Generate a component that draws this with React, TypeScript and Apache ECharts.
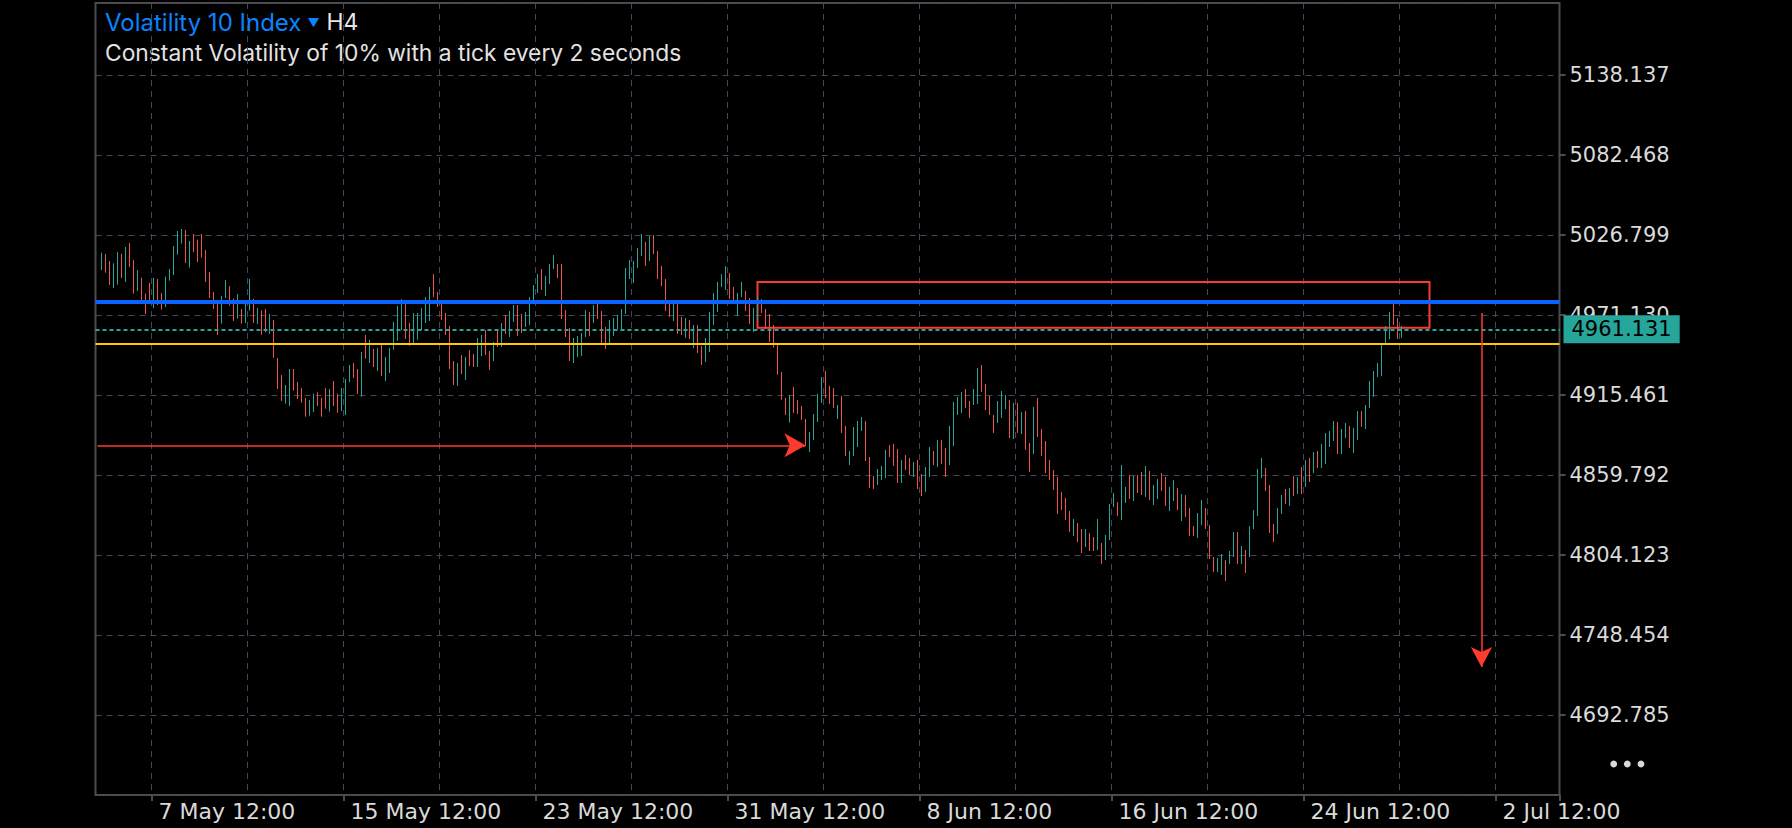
import React, { useEffect, useRef } from 'react';
import * as echarts from 'echarts';

const FONT = 'Inter, "Noto Sans", Roboto, sans-serif';
const AXIS_FONT = '"DejaVu Sans", Verdana, sans-serif';

// ---- axes ----
const yTicks = [4692.785, 4748.454, 4804.123, 4859.792, 4915.461, 4971.13, 5026.799, 5082.468, 5138.137];
const yStep = 55.669;
const yMax = 5188.24;
const xTickLabels = ['7 May 12:00', '15 May 12:00', '23 May 12:00', '31 May 12:00', '8 Jun 12:00', '16 Jun 12:00', '24 Jun 12:00', '2 Jul 12:00'];
const firstLabelSlot = 14;
const labelEvery = 48;
const gridEvery = 24;
const slotCount = 366;
const slotStartUTC = Date.UTC(2024, 4, 5, 4, 0); // H4 slot 0
const firstBarSlot = 1;

// ---- H4 bars (high / low / direction u=up d=down) ----
const highs = [
  5014.51, 5013.58, 5008.71, 5007.09, 5014.97, 5013.81, 5018.45, 5021.24, 5009.41, 5002.45,
  4997.11, 4985.98, 4993.40, 4996.88, 4996.18, 4986.44, 4997.81, 5003.14, 5019.15, 5029.59,
  5030.98, 5030.28, 5022.63, 5027.50, 5023.55, 5027.50, 5016.36, 5001.06, 4987.14, 4979.25,
  4984.36, 4995.49, 4991.31, 4982.50, 4985.75, 4975.31, 4979.48, 4996.18, 4982.27, 4976.01,
  4974.38, 4975.31, 4971.83, 4967.65, 4941.21, 4929.38, 4922.42, 4933.56, 4933.56, 4924.51,
  4920.34, 4913.38, 4911.99, 4916.39, 4917.32, 4913.38, 4920.34, 4919.64, 4925.21, 4916.39,
  4920.34, 4926.60, 4936.34, 4937.73, 4933.56, 4945.39, 4957.22, 4953.74, 4947.48, 4948.17,
  4950.26, 4941.91, 4948.17, 4966.26, 4977.40, 4982.27, 4980.88, 4965.57, 4972.53, 4972.53,
  4976.01, 4983.66, 4990.62, 4999.66, 4987.14, 4980.88, 4972.53, 4963.48, 4939.13, 4937.73,
  4943.30, 4941.91, 4946.78, 4944.00, 4955.13, 4957.22, 4960.70, 4946.08, 4952.35, 4961.39,
  4965.57, 4971.13, 4973.92, 4978.09, 4978.09, 4971.83, 4973.22, 4983.66, 4992.01, 4999.66,
  5003.14, 4998.27, 5006.62, 5012.89, 5006.62, 5006.62, 4974.61, 4962.09, 4955.13, 4956.52,
  4958.61, 4974.61, 4973.22, 4978.09, 4980.88, 4973.92, 4962.78, 4967.65, 4969.05, 4971.13,
  4975.31, 5003.84, 5009.41, 5008.71, 5017.76, 5027.50, 5021.93, 5026.11, 5026.80, 5015.67,
  5005.23, 4996.18, 4980.88, 4978.79, 4978.79, 4969.74, 4969.05, 4967.65, 4964.18, 4964.18,
  4949.56, 4955.13, 4973.22, 4986.44, 4994.10, 4999.66, 5005.23, 5000.36, 4990.62, 4986.44,
  4994.10, 4987.83, 4982.96, 4976.01, 4984.36, 4982.27, 4975.31, 4971.83, 4964.18, 4950.26,
  4931.47, 4913.38, 4915.47, 4921.04, 4911.99, 4907.81, 4898.77, 4889.72, 4902.25, 4916.16,
  4927.99, 4932.17, 4921.73, 4920.34, 4908.51, 4914.77, 4893.90, 4876.50, 4893.20, 4897.38,
  4900.16, 4897.38, 4872.33, 4859.10, 4863.98, 4866.06, 4877.20, 4880.68, 4881.37, 4877.89,
  4870.24, 4873.72, 4871.63, 4868.85, 4870.24, 4860.50, 4865.37, 4879.28, 4876.50, 4884.15,
  4884.15, 4878.59, 4893.90, 4910.60, 4914.08, 4917.56, 4919.64, 4911.29, 4919.64, 4934.26,
  4936.34, 4923.12, 4914.77, 4901.55, 4911.29, 4918.25, 4915.47, 4911.99, 4909.90, 4909.90,
  4903.64, 4904.33, 4882.07, 4907.12, 4913.38, 4891.81, 4883.46, 4870.24, 4863.28, 4858.41,
  4847.97, 4843.79, 4834.75, 4829.18, 4826.40, 4822.22, 4822.22, 4819.44, 4816.65, 4829.18,
  4812.48, 4818.05, 4839.62, 4847.27, 4841.01, 4866.75, 4851.45, 4859.80, 4859.10, 4859.80,
  4861.88, 4866.06, 4862.58, 4852.84, 4857.01, 4861.19, 4858.40, 4851.45, 4856.32, 4850.75,
  4846.58, 4845.88, 4836.83, 4824.31, 4833.35, 4842.40, 4836.83, 4825.00, 4802.74, 4802.04,
  4804.82, 4800.65, 4806.91, 4820.13, 4820.13, 4810.39, 4807.61, 4824.31, 4835.44, 4863.97,
  4871.63, 4864.67, 4852.84, 4825.70, 4836.83, 4845.88, 4850.05, 4850.75, 4859.10, 4858.40,
  4865.36, 4870.23, 4871.63, 4875.80, 4876.50, 4881.37, 4889.02, 4890.41, 4897.37, 4896.68,
  4891.81, 4895.98, 4893.89, 4892.50, 4904.33, 4904.33, 4908.51, 4925.21, 4932.16, 4937.73,
  4951.65, 4963.48, 4973.22, 4980.87, 4969.04, 4963.48,
];
const lows = [
  5002.45, 5000.59, 4992.01, 4989.92, 4992.24, 4996.88, 4994.10, 5004.53, 4985.98, 4987.83,
  4979.48, 4971.83, 4979.02, 4976.01, 4978.09, 4974.85, 4976.70, 4995.03, 4998.97, 5013.12,
  5020.77, 5007.32, 5004.07, 5014.97, 5008.01, 5011.03, 4994.10, 4982.96, 4975.31, 4957.22,
  4965.10, 4982.96, 4977.63, 4966.96, 4968.58, 4965.10, 4965.57, 4974.15, 4965.57, 4964.87,
  4957.45, 4959.07, 4957.91, 4941.44, 4919.64, 4911.29, 4909.44, 4907.81, 4918.48, 4912.68,
  4910.13, 4900.39, 4901.09, 4903.64, 4907.81, 4900.39, 4905.96, 4903.87, 4907.81, 4903.17,
  4904.33, 4901.55, 4924.51, 4927.30, 4916.16, 4914.31, 4940.75, 4937.73, 4934.95, 4932.17,
  4928.69, 4925.21, 4930.77, 4947.01, 4953.27, 4960.70, 4954.43, 4949.80, 4951.19, 4953.97,
  4960.70, 4965.57, 4966.96, 4983.66, 4976.70, 4967.65, 4957.22, 4933.56, 4922.42, 4921.73,
  4930.08, 4925.90, 4935.65, 4934.95, 4934.95, 4942.60, 4943.30, 4932.86, 4939.13, 4948.87,
  4948.87, 4957.91, 4955.83, 4966.26, 4956.52, 4958.61, 4962.78, 4964.18, 4980.18, 4986.44,
  4988.53, 4984.36, 4992.71, 5003.14, 4996.88, 4968.35, 4955.83, 4939.13, 4937.73, 4941.91,
  4942.60, 4955.83, 4956.52, 4965.57, 4968.35, 4950.95, 4947.48, 4950.95, 4956.52, 4961.39,
  4961.39, 4971.83, 4996.18, 4993.40, 5003.84, 5012.19, 5005.23, 5008.71, 5013.58, 4996.18,
  4991.31, 4973.92, 4969.74, 4966.96, 4957.91, 4957.22, 4955.13, 4954.43, 4948.17, 4944.69,
  4936.34, 4938.43, 4945.39, 4964.18, 4973.22, 4990.62, 4988.53, 4982.27, 4978.79, 4970.44,
  4983.66, 4973.92, 4964.87, 4959.30, 4967.65, 4972.53, 4961.39, 4952.35, 4948.41, 4929.62,
  4912.22, 4901.55, 4896.22, 4902.94, 4902.25, 4898.07, 4879.98, 4875.80, 4884.15, 4896.68,
  4909.90, 4913.38, 4909.21, 4906.42, 4898.77, 4889.03, 4873.02, 4866.76, 4873.02, 4879.28,
  4890.42, 4869.54, 4850.75, 4850.06, 4852.84, 4856.32, 4857.71, 4872.33, 4866.06, 4854.23,
  4854.23, 4863.28, 4859.80, 4858.41, 4850.06, 4845.19, 4847.97, 4858.41, 4866.76, 4865.37,
  4867.45, 4858.41, 4866.76, 4879.98, 4901.55, 4902.94, 4906.42, 4899.46, 4908.51, 4909.21,
  4917.56, 4905.03, 4901.55, 4889.03, 4895.98, 4899.46, 4905.73, 4885.55, 4884.85, 4889.03,
  4888.33, 4877.20, 4861.89, 4874.41, 4886.24, 4873.02, 4861.19, 4856.32, 4849.36, 4832.66,
  4835.45, 4828.48, 4820.13, 4817.35, 4813.17, 4805.52, 4809.70, 4806.91, 4806.91, 4807.61,
  4797.87, 4800.65, 4814.57, 4837.53, 4831.27, 4828.48, 4840.31, 4843.10, 4841.70, 4847.27,
  4845.88, 4844.49, 4842.40, 4838.92, 4843.10, 4848.66, 4838.22, 4834.75, 4841.70, 4835.44,
  4827.79, 4830.57, 4817.35, 4817.35, 4815.96, 4825.00, 4822.22, 4801.34, 4792.30, 4792.30,
  4790.21, 4786.04, 4797.87, 4802.74, 4797.87, 4797.87, 4791.60, 4802.74, 4822.22, 4831.27,
  4857.71, 4848.66, 4819.44, 4813.17, 4818.74, 4832.66, 4839.62, 4838.22, 4845.18, 4846.58,
  4846.58, 4851.45, 4854.93, 4861.19, 4864.67, 4864.67, 4867.45, 4879.28, 4883.46, 4874.41,
  4874.41, 4885.54, 4878.58, 4875.10, 4884.15, 4893.20, 4891.81, 4906.42, 4914.07, 4927.99,
  4928.69, 4950.26, 4954.43, 4964.17, 4954.43, 4955.13,
];
const barDirections = [
  'udduududdu', 'dddudduuuu', 'ududdddddd', 'uudduduudu', 'dduddduudd',
  'dduudddudd', 'uuuddududu', 'duuuuudduu', 'uuuddddddu', 'dudduuddud',
  'uduudduuuu', 'duuudddduu', 'uududdduuu', 'uuuuuududd', 'ddduddudud',
  'duuuuuuddu', 'udduuddddd', 'ddudddduuu', 'udddudduuu', 'uddduuuddd',
  'uddudduudu', 'dduuuudduu', 'dddduuudud', 'uddudddddd', 'dddudduddu',
  'duuuduudud', 'duduudduud', 'uddduudddu', 'uduududuuu', 'uddduududu',
  'dududuuuud', 'uuduuduuuu', 'uuuddu',
].join('');
const lastPrice = 4961.131;

// ---- drawn objects ----
const resistanceLevel = 4980.32;
const supportLevel = 4951.09;
const zoneTop = 4994.1;
const zoneBottom = 4962.23;
const zoneStartSlot = 165;
const zoneEndSlot = 333;
const hArrowLevel = 4880.46;
const hArrowFromSlot = 0;
const hArrowToSlot = 177;
const vArrowSlot = 346;
const vArrowFrom = 4972.53;
const vArrowTo = 4726.19;

const UP = '#26a69a';
const DOWN = '#ef5350';
const MARK_RED = '#ff3b30';
const FRAME = '#4d4d4d';
const GRIDLINE = '#43475a';
const LABEL = '#dadada';

const MONTHS = ['Jan', 'Feb', 'Mar', 'Apr', 'May', 'Jun', 'Jul', 'Aug', 'Sep', 'Oct', 'Nov', 'Dec'];

function buildOption() {
  const categories: string[] = [];
  for (let i = 0; i < slotCount; i++) {
    const d = new Date(slotStartUTC + i * 4 * 3600 * 1000);
    categories.push(`${d.getUTCDate()} ${MONTHS[d.getUTCMonth()]} ${String(d.getUTCHours()).padStart(2, '0')}:00`);
  }
  const candleData: any[] = [];
  for (let i = 0; i < slotCount; i++) {
    const b = i - firstBarSlot;
    if (b < 0 || b >= highs.length) {
      candleData.push('-');
      continue;
    }
    const up = (barDirections[b] || 'u') === 'u';
    const h = highs[b];
    const l = lows[b];
    const open = up ? l : h;
    let close = up ? h : l;
    if (b === highs.length - 1) close = lastPrice;
    candleData.push([open, close, l, h]);
  }
  const isLabel = (i: number) => i >= firstLabelSlot && (i - firstLabelSlot) % labelEvery === 0;
  const isGrid = (i: number) => i >= firstLabelSlot && (i - firstLabelSlot) % gridEvery === 0;
  const yMin = yTicks[0] - yStep;

  return {
    animation: false,
    backgroundColor: '#000',
    grid: {
      left: 95.5,
      right: 232.5,
      top: 3,
      bottom: 33,
      show: true,
      borderColor: FRAME,
      borderWidth: 2,
      backgroundColor: 'transparent',
      containLabel: false,
      outerBoundsMode: 'none',
    },
    xAxis: {
      type: 'category',
      data: categories,
      boundaryGap: true,
      axisLine: { show: false },
      axisTick: { show: true, interval: (i: number) => isLabel(i), length: 6, lineStyle: { color: FRAME, width: 2 } },
      axisLabel: {
        interval: (i: number) => isLabel(i),
        formatter: (_v: string, i: number) => xTickLabels[(i - firstLabelSlot) / labelEvery] ?? '',
        color: LABEL,
        fontSize: 22,
        fontFamily: AXIS_FONT,
        align: 'left',
        padding: [0, 0, 0, 5],
        margin: 5,
        hideOverlap: false,
      },
      splitLine: { show: true, interval: (i: number) => isGrid(i), lineStyle: { color: GRIDLINE, type: [6, 5], width: 1 } },
    },
    yAxis: {
      type: 'value',
      position: 'right',
      min: yMin,
      max: yMax,
      interval: yStep,
      scale: true,
      axisLine: { show: false },
      axisTick: { show: true, length: 6, lineStyle: { color: FRAME, width: 2 } },
      axisLabel: {
        color: LABEL,
        fontSize: 21,
        fontFamily: AXIS_FONT,
        margin: 10,
        showMinLabel: false,
        showMaxLabel: false,
        formatter: (v: number) => v.toFixed(3),
      },
      splitLine: { show: true, lineStyle: { color: GRIDLINE, type: [6, 5], width: 1 } },
    },
    graphic: [
      {
        type: 'text',
        x: 105,
        y: 22,
        style: {
          text: '{a|Volatility 10 Index}{b|▼}{c|H4}',
          verticalAlign: 'middle',
          rich: {
            a: { fill: '#0a84ff', fontSize: 24, fontFamily: FONT },
            b: { fill: '#0a84ff', fontSize: 12, fontFamily: FONT, padding: [0, 7, 0, 6] },
            c: { fill: '#e6e6e6', fontSize: 23, fontFamily: FONT },
          },
        },
      },
      {
        type: 'text',
        x: 105,
        y: 52,
        style: {
          text: 'Constant Volatility of 10% with a tick every 2 seconds',
          fill: '#e2e2e2',
          fontSize: 22.8,
          fontFamily: FONT,
          verticalAlign: 'middle',
        },
      },
      { type: 'circle', shape: { cx: 1613.7, cy: 764, r: 3.4 }, style: { fill: '#d8d8d8' } },
      { type: 'circle', shape: { cx: 1627.3, cy: 764, r: 3.4 }, style: { fill: '#d8d8d8' } },
      { type: 'circle', shape: { cx: 1641, cy: 764, r: 3.4 }, style: { fill: '#d8d8d8' } },
    ],
    series: [
      {
        type: 'candlestick',
        data: candleData,
        barWidth: 1,
        emphasis: { disabled: true },
        itemStyle: { color: UP, color0: DOWN, borderColor: UP, borderColor0: DOWN, borderWidth: 1 },
        markLine: {
          silent: true,
          animation: false,
          symbol: ['none', 'none'],
          label: { show: false },
          emphasis: { disabled: true },
          data: [
            { yAxis: resistanceLevel, lineStyle: { color: '#0a63ff', width: 4, type: 'solid' } },
            { yAxis: supportLevel, lineStyle: { color: '#ffc800', width: 2, type: 'solid' } },
            {
              yAxis: lastPrice,
              lineStyle: { color: UP, width: 2, type: [4, 3] },
              label: {
                show: true,
                position: 'end',
                formatter: lastPrice.toFixed(3),
                color: '#000',
                backgroundColor: UP,
                fontSize: 21,
                fontFamily: AXIS_FONT,
                lineHeight: 22,
                padding: [3, 8, 3, 8],
                distance: 4,
              },
            },
            [
              { coord: [hArrowFromSlot, hArrowLevel], lineStyle: { color: MARK_RED, width: 1.5, type: 'solid' } },
              { coord: [hArrowToSlot, hArrowLevel], symbol: 'arrow', symbolSize: [18, 21] },
            ],
            [
              { coord: [vArrowSlot, vArrowFrom], lineStyle: { color: MARK_RED, width: 1.5, type: 'solid' } },
              { coord: [vArrowSlot, vArrowTo], symbol: 'arrow', symbolSize: [16, 20] },
            ],
          ],
        },
        markArea: {
          silent: true,
          itemStyle: { color: 'rgba(0,0,0,0)', borderColor: MARK_RED, borderWidth: 2 },
          emphasis: { disabled: true },
          data: [[{ coord: [zoneStartSlot, zoneTop] }, { coord: [zoneEndSlot, zoneBottom] }]],
        },
      },
    ],
  };
}

export default function App() {
  const ref = useRef<HTMLDivElement>(null);
  useEffect(() => {
    if (!ref.current) return;
    const chart = echarts.init(ref.current, null, { renderer: 'svg' });
    chart.setOption(buildOption() as any);
    return () => chart.dispose();
  }, []);
  return (
    <div
      ref={ref}
      style={{ position: 'fixed', left: 0, top: 0, width: 1792, height: 828, background: '#000' }}
    />
  );
}
